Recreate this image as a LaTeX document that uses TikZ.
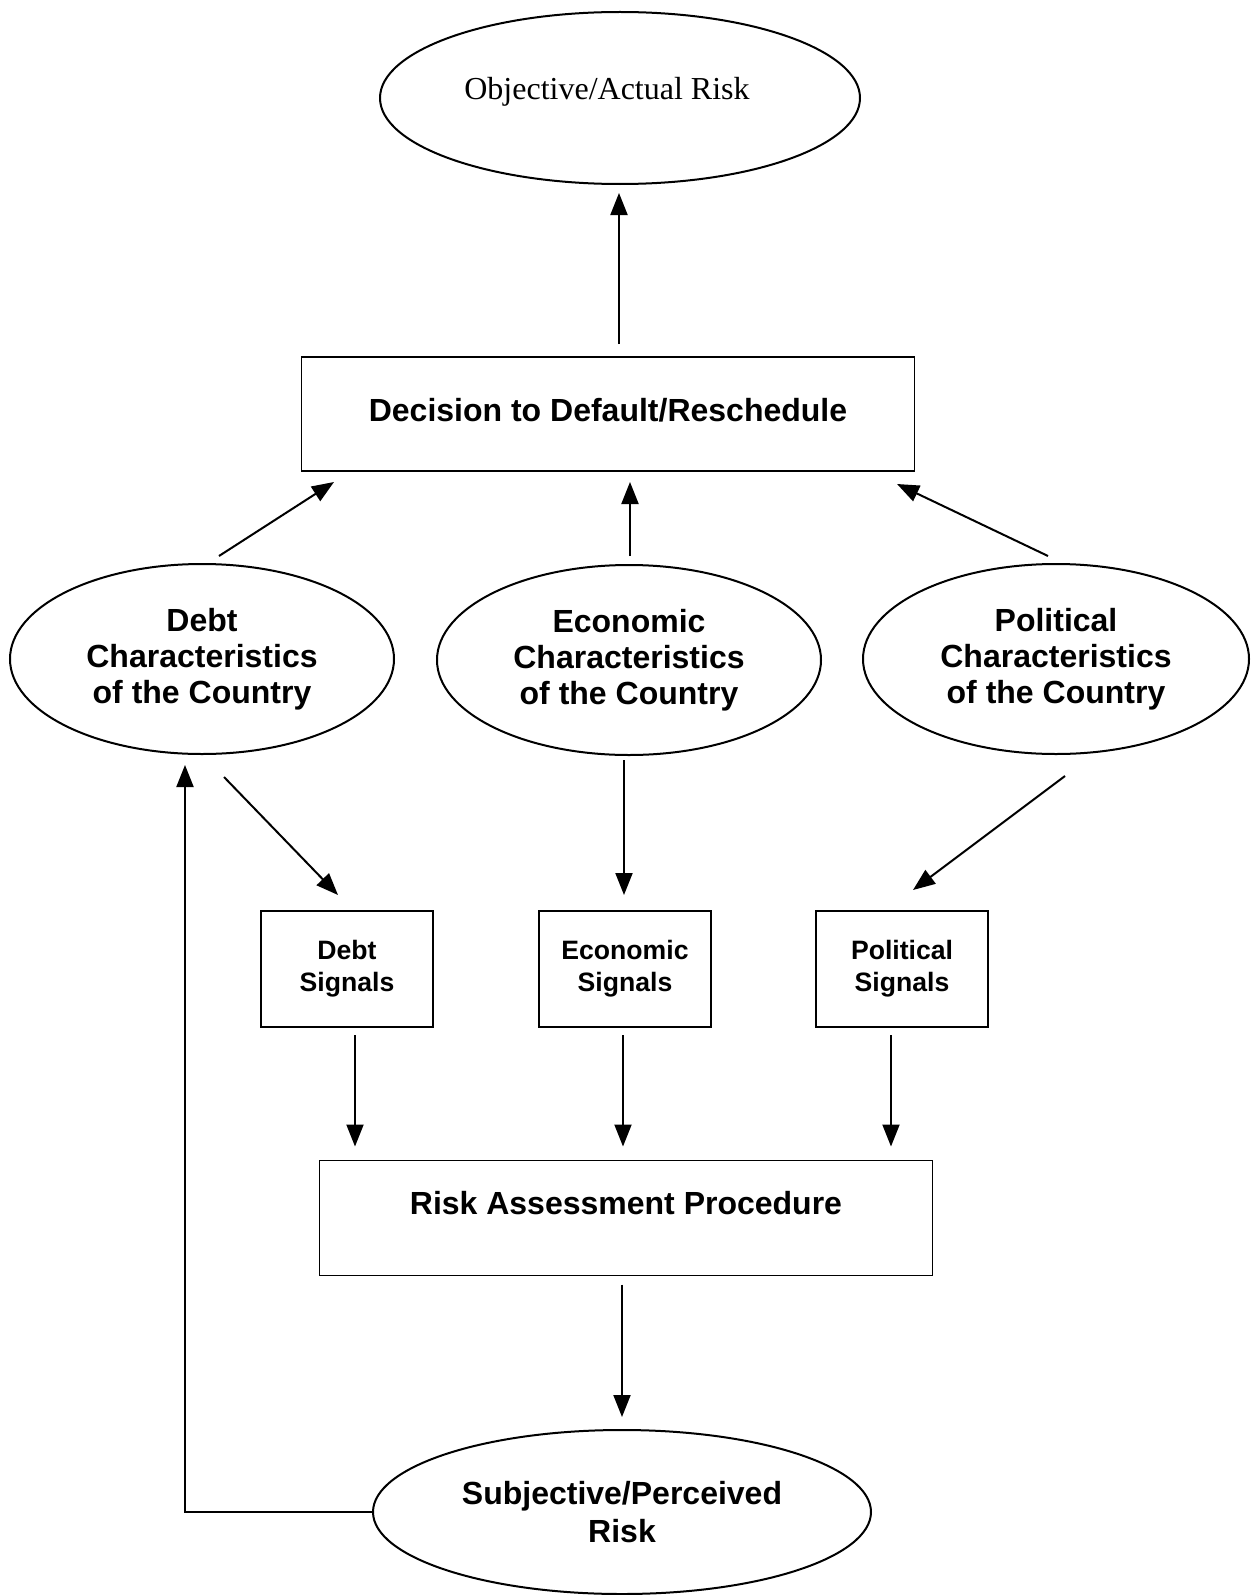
\documentclass[tikz,border=0pt]{standalone}
\usepackage{fontspec}
\usetikzlibrary{shapes.geometric,arrows.meta}
\newfontfamily\serifT{Liberation Serif}
\newfontfamily\sansA{Liberation Sans}
\begin{document}
\begin{tikzpicture}[x=0.5pt,y=-0.5pt,
  every node/.style={inner sep=0pt, outer sep=0pt},
  oval/.style={draw, ellipse, line width=1pt},
  box/.style={draw, rectangle, line width=0.9pt},
  arr/.style={line width=1pt, -{Triangle[length=11pt,width=8.5pt]}},
  bigtext/.style={font=\sansA\bfseries\fontsize{16pt}{19pt}\selectfont},
  chartext/.style={align=center, font=\sansA\bfseries\fontsize{16pt}{18pt}\selectfont},
  sigtext/.style={align=center, font=\sansA\bfseries\fontsize{13.3pt}{16pt}\selectfont},
  serif/.style={font=\serifT\fontsize{16pt}{19pt}\selectfont}
]
\useasboundingbox (0,0) rectangle (1255,1595);

% top ellipse
\node[oval, minimum width=240pt, minimum height=86pt] (obj) at (620,98) {};
\node[serif] (objt) at (607,92) {Objective/Actual Risk};

% decision box
\node[box, minimum width=306.5pt, minimum height=57pt] (dec) at (608,414) {};
\node[bigtext] (dect) at (608,410) {Decision to Default/Reschedule};

% characteristics ellipses
\node[oval, minimum width=192pt, minimum height=95pt, chartext] (debt) at (202,659) {Debt\\Characteristics\\of the Country};
\node[oval, minimum width=192pt, minimum height=95pt, chartext] (econ) at (629,660) {Economic\\Characteristics\\of the Country};
\node[oval, minimum width=193pt, minimum height=95pt, chartext] (pol) at (1056,659) {Political\\Characteristics\\of the Country};

% signals boxes
\node[box, minimum width=86pt, minimum height=58pt, sigtext] (ds) at (347,969) {Debt\\Signals};
\node[box, minimum width=86pt, minimum height=58pt, sigtext] (es) at (625,969) {Economic\\Signals};
\node[box, minimum width=86pt, minimum height=58pt, sigtext] (ps) at (902,969) {Political\\Signals};

% risk assessment box
\node[box, minimum width=306.5pt, minimum height=57.5pt] (ra) at (626,1218) {};
\node[bigtext] (rat) at (626,1203) {Risk Assessment Procedure};

% subjective ellipse
\node[oval, minimum width=249pt, minimum height=82pt, align=center,
      font=\sansA\bfseries\fontsize{16pt}{19pt}\selectfont] (subj) at (622,1512) {Subjective/Perceived\\Risk};

\coordinate (fb) at (185,765);

% arrows
\draw[arr] ([shift={(11,-13)}]dec.north) -- ([shift={(-1,9)}]obj.south);
\draw[arr] ([shift={(17,-8)}]debt.north) -- ([shift={(32.5,11)}]dec.south west);
\draw[arr] ([shift={(1,-9)}]econ.north) -- ([shift={(22,11)}]dec.south);
\draw[arr] ([shift={(-8,-8)}]pol.north) -- ([shift={(-17.5,13)}]dec.south east);

\draw[arr] ([shift={(22,23)}]debt.south) -- ([shift={(-9,-16)}]ds.north);
\draw[arr] ([shift={(-5,5)}]econ.south) -- ([shift={(-1,-16)}]es.north);
\draw[arr] ([shift={(9,22)}]pol.south) -- ([shift={(11,-21)}]ps.north);

\draw[arr] ([shift={(8,8)}]ds.south) -- ([shift={(-271,-14)}]ra.north);
\draw[arr] ([shift={(-2,8)}]es.south) -- ([shift={(-3,-14)}]ra.north);
\draw[arr] ([shift={(-11,8)}]ps.south) -- ([shift={(265,-14)}]ra.north);

\draw[arr] ([shift={(-4,9)}]ra.south) -- ([shift={(0,-13)}]subj.north);

\draw[arr] (subj.west) -| (fb);
\end{tikzpicture}
\end{document}
